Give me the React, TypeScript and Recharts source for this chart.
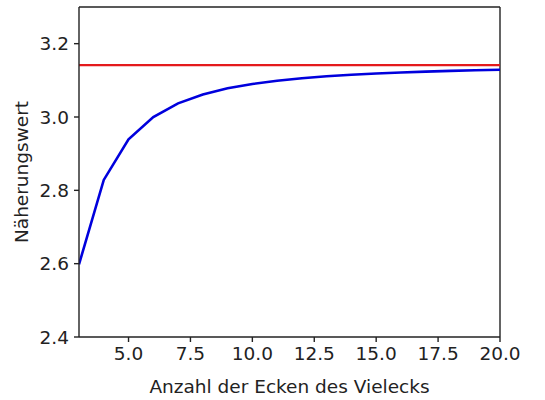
import React from 'react';
import { LineChart, Line, XAxis, YAxis, ReferenceLine } from 'recharts';

const corners = [3, 4, 5, 6, 7, 8, 9, 10, 11, 12, 13, 14, 15, 16, 17, 18, 19, 20];
const approxValues = [2.5981, 2.8284, 2.9389, 3.0, 3.0372, 3.0615, 3.0782, 3.0902, 3.099, 3.1058, 3.1111, 3.1153, 3.1187, 3.1214, 3.1237, 3.1257, 3.1273, 3.1287];
const piValue = 3.1416;
const xTicks = [5, 7.5, 10, 12.5, 15, 17.5, 20];
const yTicks = [2.4, 2.6, 2.8, 3.0, 3.2];
const yMax = 3.3;
const xMax = 20;

const data = corners.map((n, i) => ({ n, approx: approxValues[i], pi: piValue }));

const font = { fontFamily: 'DejaVu Sans', fontSize: 18.5, fill: '#222' };

export default function App() {
  return (
    <div style={{ position: 'absolute', left: 0, top: 0 }}>
      <LineChart width={545} height={400} data={data} margin={{ top: 7, right: 45, left: 0, bottom: 0 }}>
        <XAxis
          dataKey="n"
          type="number"
          domain={[3, 20]}
          ticks={xTicks}
          tickFormatter={(v: number) => v.toFixed(1)}
          height={63}
          stroke="#222"
          strokeWidth={1.4}
          tick={font}
          tickSize={5}
          tickMargin={5}
          allowDataOverflow
          label={{ value: 'Anzahl der Ecken des Vielecks', position: 'insideBottom', offset: 7, style: { ...font } }}
        />
        <YAxis
          type="number"
          domain={[2.4, yMax]}
          ticks={yTicks}
          tickFormatter={(v: number) => v.toFixed(1)}
          width={79}
          stroke="#222"
          strokeWidth={1.4}
          tick={font}
          tickSize={5}
          tickMargin={5}
          allowDataOverflow
          label={{ value: 'Näherungswert', angle: -90, position: 'insideLeft', offset: 21, style: { ...font, textAnchor: 'middle' } }}
        />
        <ReferenceLine y={yMax} stroke="#222" strokeWidth={1.4} ifOverflow="extendDomain" />
        <ReferenceLine x={xMax} stroke="#222" strokeWidth={1.4} ifOverflow="extendDomain" />
        <Line type="linear" dataKey="pi" stroke="#e41a1c" strokeWidth={2.4} dot={false} isAnimationActive={false} />
        <Line type="linear" dataKey="approx" stroke="#0000dd" strokeWidth={2.6} dot={false} isAnimationActive={false} />
      </LineChart>
    </div>
  );
}
